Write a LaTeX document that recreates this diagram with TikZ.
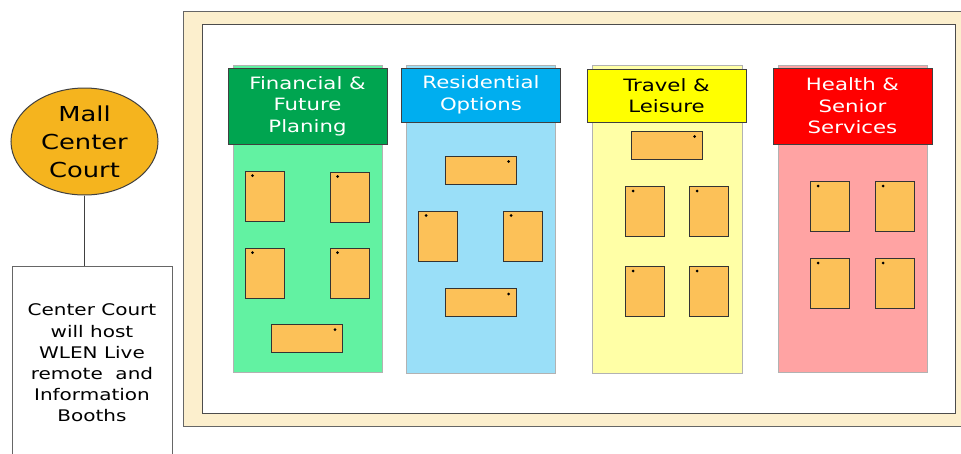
\documentclass[tikz,border=0pt]{standalone}
\usepackage{fontspec}
\setmainfont[FakeStretch=1.25]{DejaVu Sans}
\usetikzlibrary{shapes.geometric}
\definecolor{framec}{HTML}{FCEFCD}
\definecolor{ghead}{HTML}{00A550}
\definecolor{gbody}{HTML}{62F2A2}
\definecolor{bhead}{HTML}{00AEEF}
\definecolor{bbody}{HTML}{9ADFF8}
\definecolor{yhead}{HTML}{FFFF00}
\definecolor{ybody}{HTML}{FFFFA6}
\definecolor{rhead}{HTML}{FF0000}
\definecolor{rbody}{HTML}{FFA3A3}
\definecolor{boothc}{HTML}{FCC158}
\definecolor{mallc}{HTML}{F5B41E}
\tikzset{
  body/.style={draw=black!30, line width=0.6pt, inner sep=0pt},
  head/.style={draw=black!75, line width=1pt, inner sep=0pt, align=center,
     font=\fontsize{17}{21.5}\selectfont, minimum width=159pt},
  vbooth/.style={draw=black!80, fill=boothc, line width=1pt, inner sep=0pt,
     minimum width=39pt, minimum height=50pt},
  hbooth/.style={draw=black!80, fill=boothc, line width=1pt, inner sep=0pt,
     minimum width=71pt, minimum height=28pt},
  dotc/.style={fill=black}
}
\newcommand{\vdot}[1]{\fill[dotc] (#1.north west) ++(8,5) circle (1.5pt);}
\newcommand{\hdot}[1]{\fill[dotc] (#1.north east) ++(-8,6) circle (1.5pt);}
\begin{document}
\begin{tikzpicture}[x=1pt,y=-1pt]
\useasboundingbox (0,0) rectangle (961,453);
\fill[white] (0,0) rectangle (961,453);
% frames
\draw[black!60, fill=framec, line width=1pt] (183,11) rectangle (975,426);
\draw[black!70, fill=white, line width=1pt] (202,24) rectangle (955,413);
% column bodies
\node[body, fill=gbody, minimum width=149pt, minimum height=307pt] (gb) at (307.5,218.5) {};
\node[body, fill=bbody, minimum width=149pt, minimum height=308pt] (bb) at (480.5,219) {};
\node[body, fill=ybody, minimum width=150pt, minimum height=308pt] (yb) at (667,219) {};
\node[body, fill=rbody, minimum width=149pt, minimum height=307pt] (rb) at (852.5,218.5) {};
% headers
\node[head, fill=ghead, text=white, minimum height=76pt] (gh) at (307.5,106) {Financial \&\\Future\\Planing};
\node[head, fill=bhead, text=white, minimum height=54pt] (bh) at (481,95) {Residential\\Options};
\node[head, fill=yhead, text=black, minimum height=53pt] (yh) at (666.5,95.5) {Travel \&\\Leisure};
\node[head, fill=rhead, text=white, minimum height=76pt] (rh) at (852.5,106) {Health \&\\Senior\\Services};
% green booths
\node[vbooth] (g1) at (264.5,196) {};
\node[vbooth] (g2) at (349.5,197) {};
\node[vbooth] (g3) at (264.5,273) {};
\node[vbooth] (g4) at (349.5,273) {};
\node[hbooth] (g5) at (307,338) {};
\vdot{g1}\vdot{g2}\vdot{g3}\vdot{g4}\hdot{g5}
% blue booths
\node[hbooth] (b1) at (480.5,170) {};
\node[vbooth] (b2) at (438,236) {};
\node[vbooth] (b3) at (523,236) {};
\node[hbooth] (b4) at (480.5,302.5) {};
\hdot{b1}\vdot{b2}\vdot{b3}\hdot{b4}
% yellow booths
\node[hbooth] (y1) at (666.5,145) {};
\node[vbooth] (y2) at (645,211.5) {};
\node[vbooth] (y3) at (709,211.5) {};
\node[vbooth] (y4) at (645,291.5) {};
\node[vbooth] (y5) at (709,291.5) {};
\hdot{y1}\vdot{y2}\vdot{y3}\vdot{y4}\vdot{y5}
% red booths
\node[vbooth] (r1) at (830,206.5) {};
\node[vbooth] (r2) at (895,206.5) {};
\node[vbooth] (r3) at (830,283.5) {};
\node[vbooth] (r4) at (895,283.5) {};
\vdot{r1}\vdot{r2}\vdot{r3}\vdot{r4}
% mall center court
\node[ellipse, draw=black!75, fill=mallc, line width=1pt, inner sep=0pt,
  minimum width=147pt, minimum height=107pt, align=center,
  font=\fontsize{20.6}{28}\selectfont] (mall) at (84.5,141.5) {Mall\\Center\\Court};
\node[draw=black!60, fill=white, line width=1pt, inner sep=0pt,
  minimum width=160pt, minimum height=194pt, align=center,
  font=\fontsize{16}{21.2}\selectfont] (info) at (92,363) {Center Court\\will host\\WLEN Live\\remote \ and\\Information\\Booths};
\draw[black!75, line width=1pt] (mall.south) -- (mall.south |- info.north);
\end{tikzpicture}
\end{document}
